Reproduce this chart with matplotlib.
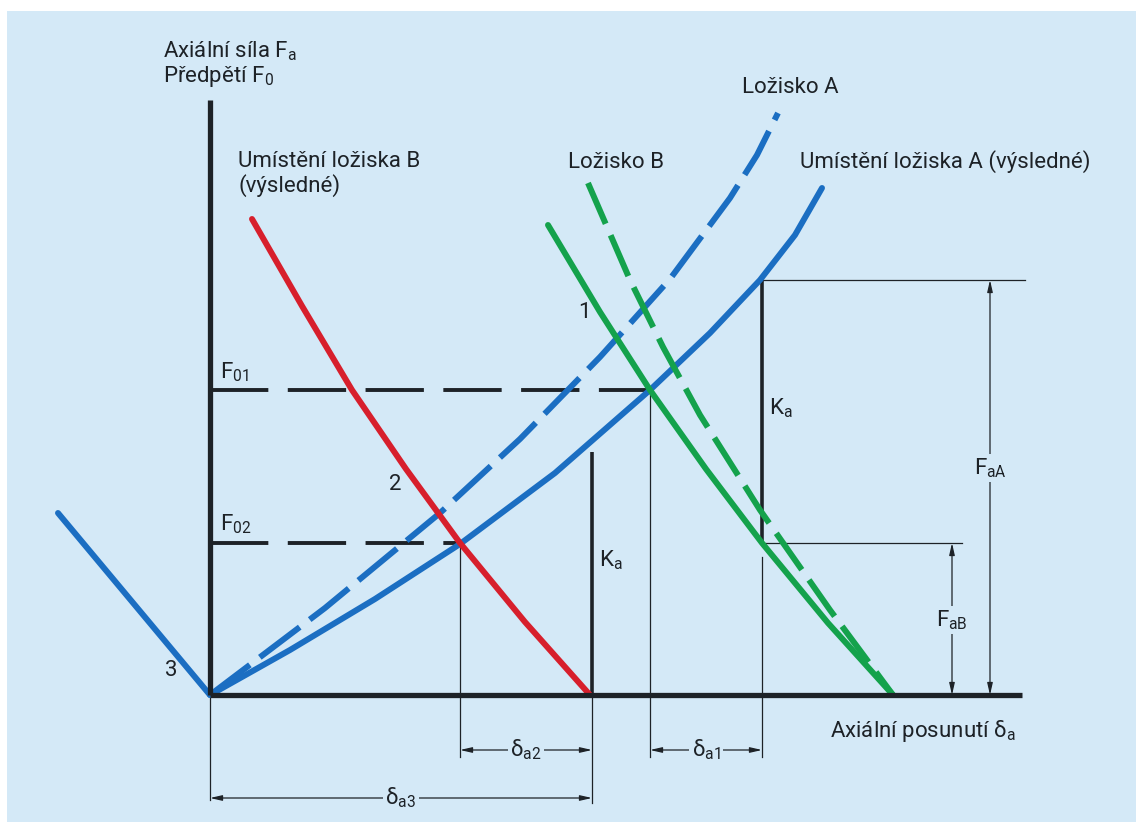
import matplotlib
matplotlib.use("Agg")
import matplotlib.pyplot as plt
from matplotlib.patches import Rectangle

# diagram units: x = axial displacement, y = axial force (origin at axis corner)
BLUE = "#1b6ec2"
RED = "#d71f2c"
GREEN = "#14a24c"
INK = "#1d2227"
BG = "#d4e9f7"

# bearing A, resulting position (solid blue)
a_res_x = [0, 80, 165, 250, 345, 440, 500, 550, 585, 612]
a_res_y = [0, 45, 96, 151, 222, 305, 362, 415, 460, 507]
# bearing A (dashed blue)
a_x = [0, 115, 230, 310, 390, 460, 520, 547, 568]
a_y = [0, 87, 182, 256, 338, 416, 497, 540, 582]
# bearing B, resulting position (red)
b_res_x = [42, 92, 142, 196, 250, 315, 380]
b_res_y = [476, 389, 305, 226, 152, 73, 0]
# bearing B, resulting (solid green)
g_res_x = [338, 390, 440, 496, 552, 618, 683]
g_res_y = [470, 383, 305, 226, 152, 72, 0]
# bearing B (dashed green)
b_x = [378, 420, 453, 490, 550, 620, 683]
b_y = [512, 415, 348, 280, 185, 85, 0]
# branch "3"
c_x = [-152, 0]
c_y = [182, 0]

F01 = 305
F02 = 152
FAA = 415
KA_TOP = 243
D2_L, D2_R = 250, 382   # delta a2
D1_L, D1_R = 440, 552   # delta a1

plt.rcParams["font.family"] = ["Roboto", "DejaVu Sans"]
plt.rcParams["mathtext.fontset"] = "custom"
plt.rcParams["mathtext.rm"] = "Roboto"
plt.rcParams["lines.scale_dashes"] = False

fig = plt.figure(figsize=(11.36, 8.22), dpi=100)
fig.patch.set_facecolor("white")
fig.patches.append(Rectangle((7 / 1136, 0), 1, 811 / 822, transform=fig.transFigure,
                             facecolor=BG, edgecolor="none", zorder=-1))
ax = fig.add_axes([0, 0, 1, 1])
ax.set_xlim(-210, 926)
ax.set_ylim(-127, 695)
ax.axis("off")
ax.patch.set_alpha(0)

fs = 16

# coloured curves
kw = dict(lw=4.3, solid_capstyle="round", solid_joinstyle="round",
          dash_capstyle="butt", zorder=3)
ax.plot(c_x, c_y, color=BLUE, **kw)
ax.plot(a_res_x, a_res_y, color=BLUE, **kw)
ax.plot(a_x, a_y, color=BLUE, dashes=(36, 9), **kw)
ax.plot(b_res_x, b_res_y, color=RED, **kw)
ax.plot(g_res_x, g_res_y, color=GREEN, **kw)
ax.plot(b_x, b_y, color=GREEN, dashes=(32, 9), **kw)

# axes
ax.plot([0, 0], [595, 0], color=INK, lw=3.8, solid_capstyle="butt", zorder=4)
ax.plot([0, 812], [0, 0], color=INK, lw=3.8, solid_capstyle="butt", zorder=4)

# preload levels
ax.plot([0, D1_L], [F01, F01], color=INK, lw=2.8, dashes=(42, 14), zorder=2)
ax.plot([0, D2_L], [F02, F02], color=INK, lw=2.8, dashes=(42, 14), zorder=2)

# K_a lines
ax.plot([D2_R, D2_R], [0, KA_TOP], color=INK, lw=2.6, solid_capstyle="butt", zorder=2)
ax.plot([D1_R, D1_R], [F02, FAA], color=INK, lw=2.6, solid_capstyle="butt", zorder=2)

# thin extension lines
thin = dict(color=INK, lw=0.9, zorder=2)
ax.plot([0, 0], [0, -105], **thin)
ax.plot([D2_L, D2_L], [F02, -62], **thin)
ax.plot([D2_R, D2_R], [0, -108], **thin)
ax.plot([D1_L, D1_L], [F01, -62], **thin)
ax.plot([D1_R, D1_R], [138, -62], **thin)
ax.plot([D1_R, 815], [FAA, FAA], **thin)
ax.plot([D1_R, 752], [F02, F02], **thin)


def dim(x0, y0, x1, y1, label, lx, ly):
    ax.annotate("", xy=(x1, y1), xytext=(x0, y0),
                arrowprops=dict(arrowstyle="<|-|>,head_length=0.7,head_width=0.16",
                                color=INK, lw=0.9, shrinkA=0, shrinkB=0), zorder=2)
    ax.text(lx, ly, label, fontsize=fs, color=INK, ha="center", va="center",
            bbox=dict(facecolor=BG, edgecolor="none", pad=2), zorder=3)


dim(D2_L, -55, D2_R, -55, "δ$_{\\mathrm{a2}}$", (D2_L + D2_R) / 2, -55)
dim(D1_L, -55, D1_R, -55, "δ$_{\\mathrm{a1}}$", (D1_L + D1_R) / 2, -55)
dim(0, -103, D2_R, -103, "δ$_{\\mathrm{a3}}$", D2_R / 2, -103)
dim(780, 0, 780, FAA, "F$_{\\mathrm{aA}}$", 780, 227)
dim(742, 0, 742, F02, "F$_{\\mathrm{aB}}$", 742, 75)

# labels
txt = dict(fontsize=fs, color=INK)
ax.text(-47, 638, "Axiální síla F$_{\\mathrm{a}}$", ha="left", va="baseline", **txt)
ax.text(-47, 613, "Předpětí F$_{\\mathrm{0}}$", ha="left", va="baseline", **txt)
ax.text(28, 528, "Umístění ložiska B", ha="left", va="baseline", **txt)
ax.text(28, 503, "(výsledné)", ha="left", va="baseline", **txt)
ax.text(358, 527, "Ložisko B", ha="left", va="baseline", **txt)
ax.text(532, 602, "Ložisko A", ha="left", va="baseline", **txt)
ax.text(590, 527, "Umístění ložiska A (výsledné)", ha="left", va="baseline", **txt)
ax.text(368, 382, "1", ha="left", va="center", **txt)
ax.text(185, 210, "2", ha="center", va="center", **txt)
ax.text(-45, 25, "3", ha="left", va="center", **txt)
ax.text(10, 317, "F$_{\\mathrm{01}}$", ha="left", va="baseline", **txt)
ax.text(10, 165, "F$_{\\mathrm{02}}$", ha="left", va="baseline", **txt)
ax.text(389, 135, "K$_{\\mathrm{a}}$", ha="left", va="center", **txt)
ax.text(559, 287, "K$_{\\mathrm{a}}$", ha="left", va="center", **txt)
ax.text(620, -42, "Axiální posunutí δ$_{\\mathrm{a}}$", ha="left", va="baseline", **txt)

fig.savefig("out.png", dpi=100)
